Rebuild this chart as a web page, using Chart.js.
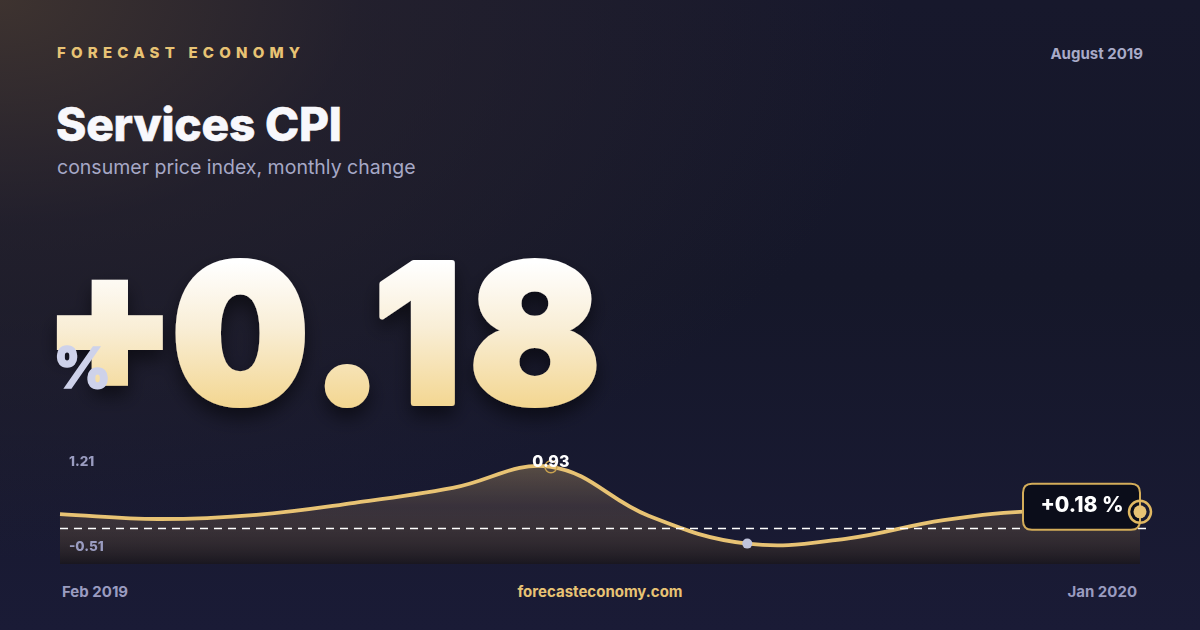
<!DOCTYPE html>
<html>
<head>
<meta charset="utf-8">
<script src="https://cdn.jsdelivr.net/npm/chart.js@4.4.1/dist/chart.umd.min.js"></script>
<style>
  html, body { margin: 0; padding: 0; }
  body {
    width: 1200px; height: 630px; overflow: hidden; position: relative;
    font-family: Inter, "Noto Sans", sans-serif;
    background:
      radial-gradient(ellipse 900px 560px at 0% 0%, rgba(66,54,48,0.9) 0%, rgba(44,38,46,0.55) 40%, rgba(22,24,48,0) 100%),
      linear-gradient(180deg, #17182c 0%, #151729 45%, #1a1b36 100%);
  }
  .abs { position: absolute; white-space: nowrap; }
  #brand { left: 57px; top: 43px; font-size: 15px; font-weight: 800; letter-spacing: 5.2px; color: #e8c374; }
  #date { right: 57px; top: 44px; font-size: 15px; font-weight: 700; color: #a9abc8; }
  #title { left: 56px; top: 96px; font-size: 46px; font-weight: 800; color: #f8f8fc; letter-spacing: -0.2px; -webkit-text-stroke: 0.6px #f8f8fc; }
  #subtitle { left: 57px; top: 155px; font-size: 19.5px; font-weight: 400; color: #a6a8c6; }
  #bigSvg { left: 0; top: 0; }
  #bigSvg text { font-family: Inter, "Noto Sans", sans-serif; font-weight: 900; }
  #pct { left: 53px; top: 339px; font-size: 57px; font-weight: 800; color: #ced2ea; line-height: 1; -webkit-text-stroke: 1.5px #ced2ea; }
  #chartWrap { left: 40px; top: 440px; width: 1120px; height: 140px; }
  .foot { top: 582px; font-size: 15px; font-weight: 700; color: #9a9cc0; }
  #first { left: 62px; }
  #last { right: 63px; }
  #site { left: 0; width: 1200px; text-align: center; color: #e8c374; font-weight: 700; }
</style>
</head>
<body>
<div class="abs" id="brand">FORECAST ECONOMY</div>
<div class="abs" id="date">August 2019</div>
<div class="abs" id="title">Services CPI</div>
<div class="abs" id="subtitle">consumer price index, monthly change</div>
<svg class="abs" id="bigSvg" width="700" height="440">
  <defs>
    <linearGradient id="bigGrad" gradientUnits="userSpaceOnUse" x1="0" y1="262" x2="0" y2="408">
      <stop offset="0" stop-color="#ffffff"/>
      <stop offset="0.45" stop-color="#f9eed6"/>
      <stop offset="1" stop-color="#f3d690"/>
    </linearGradient>
    <filter id="bigShadow" x="-10%" y="-10%" width="120%" height="130%">
      <feDropShadow dx="0" dy="10" stdDeviation="9" flood-color="#000000" flood-opacity="0.5"/>
    </filter>
  </defs>
  <g filter="url(#bigShadow)" fill="url(#bigGrad)" stroke="url(#bigGrad)" stroke-width="6" stroke-linejoin="miter">
    <text id="bigSign" x="44" y="389" font-size="190"></text>
    <text id="bigNum" x="172" y="403" font-size="192" textLength="428" lengthAdjust="spacing" stroke-linejoin="round"></text>
  </g>
</svg>
<div class="abs" id="pct">%</div>
<div class="abs" id="chartWrap"><canvas id="cpiChart" width="1120" height="140"></canvas></div>
<div class="abs foot" id="first"></div>
<div class="abs foot" id="site">forecasteconomy.com</div>
<div class="abs foot" id="last"></div>
<script>
// monthly change of services CPI, %
var months = ['Feb 2019', 'Mar 2019', 'Apr 2019', 'May 2019', 'Jun 2019', 'Jul 2019',
              'Aug 2019', 'Sep 2019', 'Oct 2019', 'Nov 2019', 'Dec 2019', 'Jan 2020'];
var cpiChange = [0.14, 0.06, 0.13, 0.33, 0.58, 0.93, 0.11, -0.35, -0.27, 0.04, 0.20, 0.18];
var rangeLabels = ['1.21', '-0.51'];
var yMin = -0.69, yMax = 1.21;
var refLine = -0.09;

var GOLD = '#e8c374';
var latest = cpiChange[cpiChange.length - 1];

function fmtSigned(v) {
    return (v >= 0 ? '+' : '') + v.toFixed(2);
}

document.getElementById('bigSign').textContent = latest >= 0 ? '+' : '-';
document.getElementById('bigNum').textContent = Math.abs(latest).toFixed(2);
document.getElementById('first').textContent = months[0];
document.getElementById('last').textContent = months[months.length - 1];

function roundRect(ctx, x, y, w, h, r) {
    ctx.beginPath();
    ctx.moveTo(x + r, y);
    ctx.lineTo(x + w - r, y);
    ctx.quadraticCurveTo(x + w, y, x + w, y + r);
    ctx.lineTo(x + w, y + h - r);
    ctx.quadraticCurveTo(x + w, y + h, x + w - r, y + h);
    ctx.lineTo(x + r, y + h);
    ctx.quadraticCurveTo(x, y + h, x, y + h - r);
    ctx.lineTo(x, y + r);
    ctx.quadraticCurveTo(x, y, x + r, y);
    ctx.closePath();
}

var decorations = {
    id: 'decorations',
    afterDatasetsDraw: function(chart) {
        var ctx = chart.ctx, a = chart.chartArea;
        var pts = chart.getDatasetMeta(0).data;
        var maxI = 0, minI = 0;
        cpiChange.forEach(function(v, i) {
            if (v > cpiChange[maxI]) maxI = i;
            if (v < cpiChange[minI]) minI = i;
        });
        ctx.save();
        // reference line
        var ry = Math.round(chart.scales.y.getPixelForValue(refLine)) + 0.5;
        ctx.strokeStyle = '#ffffff';
        ctx.lineWidth = 1.5;
        ctx.setLineDash([8, 6]);
        ctx.beginPath();
        ctx.moveTo(a.left, ry);
        ctx.lineTo(a.right + 6, ry);
        ctx.stroke();
        ctx.setLineDash([]);

        // range labels
        ctx.font = '800 13.5px Inter';
        ctx.fillStyle = '#9a9cc0';
        ctx.textAlign = 'left';
        ctx.textBaseline = 'middle';
        ctx.fillText(rangeLabels[0], a.left + 9, a.top + 12);
        ctx.fillText(rangeLabels[1], a.left + 9, a.bottom - 17);

        // peak
        var p = pts[maxI];
        ctx.strokeStyle = '#c9a24f';
        ctx.lineWidth = 1.5;
        ctx.beginPath();
        ctx.arc(p.x, p.y, 6, 0, Math.PI * 2);
        ctx.stroke();
        ctx.font = '800 16px Inter';
        ctx.fillStyle = '#ffffff';
        ctx.textAlign = 'center';
        ctx.fillText(cpiChange[maxI].toFixed(2), p.x, p.y - 5);

        // trough
        var m = pts[minI];
        ctx.fillStyle = '#c0c4dc';
        ctx.beginPath();
        ctx.arc(m.x, m.y, 5, 0, Math.PI * 2);
        ctx.fill();

        // latest value box
        var e = pts[pts.length - 1];
        roundRect(ctx, e.x - 117, e.y - 28, 117, 46, 9);
        ctx.fillStyle = '#0b0d1a';
        ctx.fill();
        ctx.strokeStyle = '#d4ad5a';
        ctx.lineWidth = 2;
        ctx.stroke();
        ctx.font = '800 21px Inter';
        ctx.fillStyle = '#ffffff';
        ctx.fillText(fmtSigned(latest) + ' %', e.x - 58, e.y - 6);

        ctx.strokeStyle = '#e0b862';
        ctx.lineWidth = 2.5;
        ctx.beginPath();
        ctx.arc(e.x, e.y, 11, 0, Math.PI * 2);
        ctx.stroke();
        ctx.fillStyle = GOLD;
        ctx.beginPath();
        ctx.arc(e.x, e.y, 6.5, 0, Math.PI * 2);
        ctx.fill();
        ctx.restore();
    }
};

var cpiChart = new Chart(document.getElementById('cpiChart').getContext('2d'), {
    type: 'line',
    data: {
        labels: months,
        datasets: [{
            data: cpiChange,
            borderColor: GOLD,
            borderWidth: 3.8,
            tension: 0.4,
            pointRadius: 0,
            fill: 'start',
            backgroundColor: function(c) {
                var a = c.chart.chartArea;
                if (!a) return 'rgba(232,195,116,0.2)';
                var g = c.chart.ctx.createLinearGradient(0, a.top, 0, a.bottom);
                g.addColorStop(0, 'rgba(232,195,116,0.38)');
                g.addColorStop(0.5, 'rgba(140,112,84,0.28)');
                g.addColorStop(1, 'rgba(26,22,24,0.7)');
                return g;
            }
        }]
    },
    options: {
        responsive: false,
        animation: false,
        layout: { padding: { left: 20, right: 20, top: 10, bottom: 16 } },
        plugins: { legend: { display: false }, tooltip: { enabled: false } },
        scales: {
            x: { display: false, offset: false },
            y: { display: false, min: yMin, max: yMax }
        }
    },
    plugins: [decorations]
});
</script>
</body>
</html>
